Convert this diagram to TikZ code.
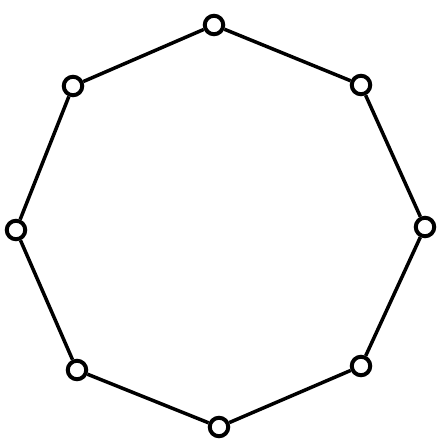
\documentclass[tikz,border=0pt]{standalone}
\usepackage{tikz}
\tikzset{
    cycle/.style={x=1pt, y=-1pt},
    cycle vertex/.style={circle, draw, fill=white, line width=4pt,
        minimum size=18.5pt, inner sep=0pt},
    cycle edge/.style={line width=3.5pt},
}

\begin{document}
\begin{tikzpicture}[cycle]

    \useasboundingbox (0,0) rectangle (438,441);

    % Vertices
    \node[cycle vertex] (v1) at (214,25) {};
    \node[cycle vertex] (v2) at (361,85) {};
    \node[cycle vertex] (v3) at (425,227) {};
    \node[cycle vertex] (v4) at (361,366) {};
    \node[cycle vertex] (v5) at (219,427) {};
    \node[cycle vertex] (v6) at (77,370) {};
    \node[cycle vertex] (v7) at (16,230) {};
    \node[cycle vertex] (v8) at (73,86) {};

    % Edges
    \draw[cycle edge] (v1) -- (v2);
    \draw[cycle edge] (v2) -- (v3);
    \draw[cycle edge] (v3) -- (v4);
    \draw[cycle edge] (v4) -- (v5);
    \draw[cycle edge] (v5) -- (v6);
    \draw[cycle edge] (v6) -- (v7);
    \draw[cycle edge] (v7) -- (v8);
    \draw[cycle edge] (v8) -- (v1);

\end{tikzpicture}
\end{document}
